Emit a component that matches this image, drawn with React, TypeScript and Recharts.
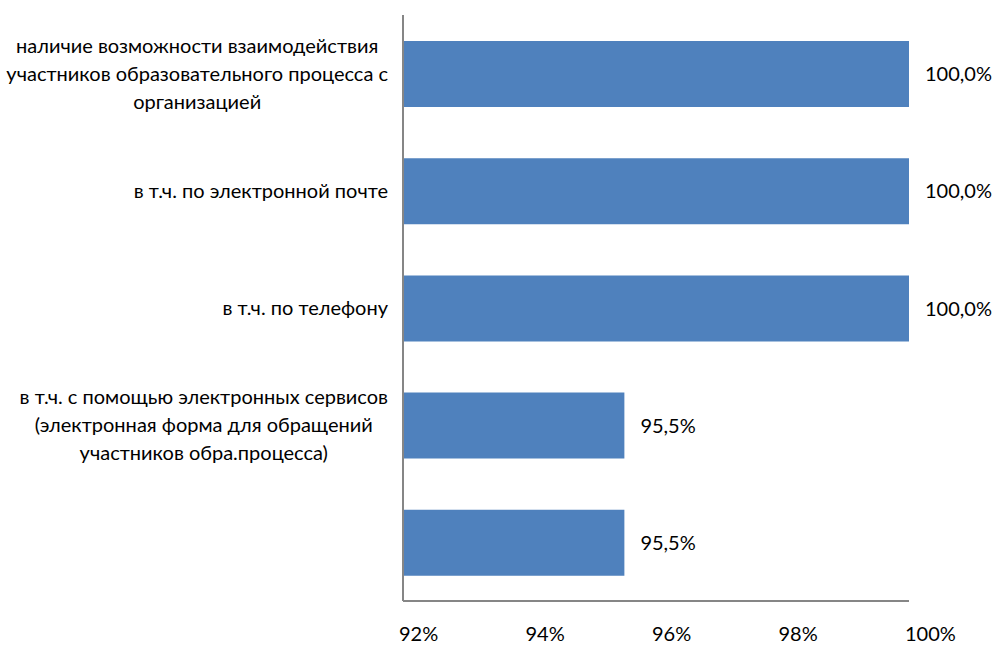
import React from 'react';
import { BarChart, Bar, XAxis, YAxis, LabelList } from 'recharts';

// категории (строки через \n — как переносы в исходной диаграмме)
const categories = [
  'наличие возможности взаимодействия\nучастников образовательного процесса с\nорганизацией',
  'в т.ч. по электронной почте',
  'в т.ч. по телефону',
  'в т.ч. с помощью электронных сервисов\n(электронная форма для обращений\nучастников обра.процесса)',
  '',
];
const shares = [100, 100, 100, 95.5, 95.5];
const xTicks = [92, 94, 96, 98, 100];

const FONT = 'Lato, "Noto Sans", sans-serif';
const BLUE = '#4F81BD';
const AXIS = '#868686';

const data = categories.map((name, i) => ({ name, value: shares[i] }));

let ctx: CanvasRenderingContext2D | null = null;
function textWidth(s: string, size: number): number {
  if (!ctx) ctx = document.createElement('canvas').getContext('2d');
  if (!ctx) return s.length * size * 0.5;
  ctx.font = `${size}px Lato`;
  return ctx.measureText(s).width;
}

function CategoryTick(props: any) {
  const { y, payload } = props;
  const lines = String(payload.value).split('\n').filter(Boolean);
  if (!lines.length) return null;
  const size = 20;
  const lh = 28;
  const w = Math.max(...lines.map(l => textWidth(l, size)));
  const cx = 388 - w / 2;
  const top = y - ((lines.length - 1) * lh) / 2;
  return (
    <text x={cx} y={top} textAnchor="middle" fontSize={size} fontFamily={FONT} fill="#000">
      {lines.map((l, i) => (
        <tspan key={i} x={cx} y={top + i * lh} dy="0.35em">{l}</tspan>
      ))}
    </text>
  );
}

function PctTick(props: any) {
  const { x, y, payload } = props;
  return (
    <text x={x - 4} y={y + 32} textAnchor="start" fontSize={20} fontFamily={FONT} fill="#000">
      {payload.value}%
    </text>
  );
}

export default function App() {
  return (
    <div style={{ position: 'absolute', left: 0, top: 0, width: 1000, height: 648, background: '#fff' }}>
      <BarChart
        width={1000}
        height={648}
        data={data}
        layout="vertical"
        margin={{ top: 15, right: 91, bottom: 0, left: 0 }}
      >
        <XAxis
          type="number"
          domain={[92, 100]}
          ticks={xTicks}
          allowDataOverflow
          height={47}
          axisLine={{ stroke: AXIS, strokeWidth: 2 }}
          tickLine={false}
          tick={<PctTick />}
        />
        <YAxis
          type="category"
          dataKey="name"
          width={403}
          axisLine={{ stroke: AXIS, strokeWidth: 2 }}
          tickLine={false}
          tick={<CategoryTick />}
          interval={0}
        />
        <Bar dataKey="value" fill={BLUE} barSize={66} isAnimationActive={false}>
          <LabelList
            dataKey="value"
            position="right"
            offset={16}
            fill="#000"
            fontSize={20}
            fontFamily={FONT}
            formatter={(v: any) => `${Number(v).toFixed(1).replace('.', ',')}%`}
          />
        </Bar>
      </BarChart>
    </div>
  );
}
